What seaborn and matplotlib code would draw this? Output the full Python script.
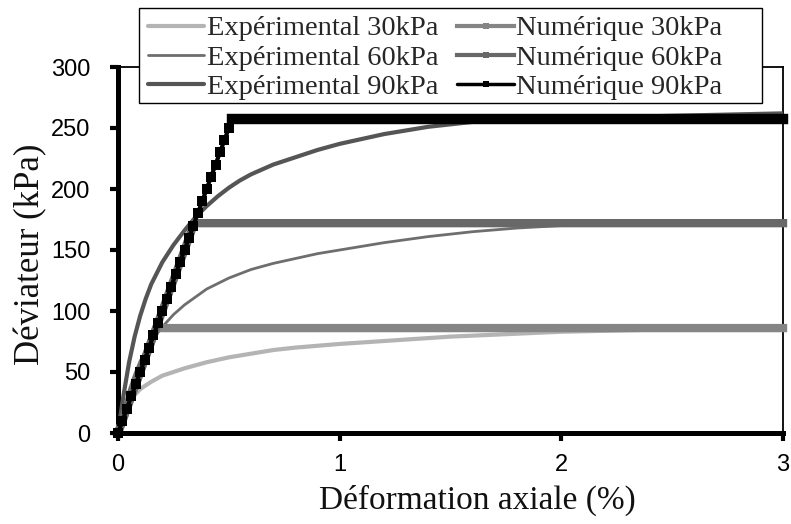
import matplotlib
matplotlib.use("Agg")
import matplotlib.pyplot as plt
from matplotlib.font_manager import FontProperties
from matplotlib.patches import Rectangle
import seaborn as sns

# ---- data ----
exp_x_30 = [0, 0.01, 0.025, 0.05, 0.075, 0.10, 0.15, 0.20, 0.25, 0.30, 0.40, 0.50, 0.60, 0.70, 0.80,
            1.00, 1.25, 1.50, 1.75, 2.00, 2.50, 3.00]
exp_y_30 = [0, 6, 14, 24, 31, 36, 42, 47, 50, 53, 58, 62, 65, 68, 70,
            73, 76, 79, 81, 83, 85, 86]

exp_x_60 = [0, 0.01, 0.025, 0.05, 0.075, 0.10, 0.15, 0.20, 0.25, 0.30, 0.40, 0.50, 0.60, 0.70, 0.80,
            0.90, 1.00, 1.20, 1.40, 1.60, 1.80, 2.00, 2.50, 3.00]
exp_y_60 = [0, 8, 19, 35, 48, 59, 75, 87, 97, 105, 118, 127, 134, 139, 143,
            147, 150, 156, 161, 165, 168, 170, 172, 173]

exp_x_90 = [0, 0.01, 0.025, 0.05, 0.075, 0.10, 0.125, 0.15, 0.20, 0.25, 0.30, 0.35, 0.40, 0.45,
            0.50, 0.55, 0.60, 0.70, 0.80, 0.90, 1.00, 1.20, 1.40, 1.60, 1.80, 2.00, 2.50, 3.00]
exp_y_90 = [0, 13, 31, 58, 79, 96, 110, 122, 140, 154, 166, 177, 186, 194,
            201, 207, 212, 220, 226, 232, 237, 245, 251, 255, 257, 258, 260, 262]

num_x_30 = [0, 0.172, 3.0]
num_y_30 = [0, 86, 86]

num_x_60 = [0, 0.344, 3.0]
num_y_60 = [0, 172, 172]

num_x_90 = [0, 0.02, 0.04, 0.06, 0.08, 0.10, 0.12, 0.14, 0.16, 0.18, 0.20, 0.22, 0.24,
            0.26, 0.28, 0.30, 0.32, 0.34, 0.36, 0.38, 0.40, 0.42, 0.44, 0.46, 0.48, 0.50,
            0.514, 3.0]
num_y_90 = [0, 10, 20, 30, 40, 50, 60, 70, 80, 90, 100, 110, 120,
            130, 140, 150, 160, 170, 180, 190, 200, 210, 220, 230, 240, 250,
            257, 257]

labels = ["Expérimental 30kPa", "Expérimental 60kPa", "Expérimental 90kPa",
          "Numérique 30kPa", "Numérique 60kPa", "Numérique 90kPa"]
x_ticks = [0, 1, 2, 3]
y_ticks = [0, 50, 100, 150, 200, 250, 300]

# ---- style ----
sns.set_style("white")
plt.rcParams['font.family'] = ['Liberation Sans', 'DejaVu Sans']

W, H = 791, 524
fig = plt.figure(figsize=(W / 100, H / 100), dpi=100)
ax = fig.add_axes([118 / W, 91 / H, 665 / W, 366 / H])

# experimental curves
sns.lineplot(x=exp_x_30, y=exp_y_30, ax=ax, color="#b4b4b4", linewidth=3.0,
             label=labels[0], sort=False, estimator=None, zorder=3)
sns.lineplot(x=exp_x_60, y=exp_y_60, ax=ax, color="#6e6e6e", linewidth=2.0,
             label=labels[1], sort=False, estimator=None, zorder=3)
sns.lineplot(x=exp_x_90, y=exp_y_90, ax=ax, color="#555555", linewidth=3.0,
             label=labels[2], sort=False, estimator=None, zorder=3)

# numerical curves
sns.lineplot(x=num_x_30, y=num_y_30, ax=ax, color="#858585", linewidth=6.0,
             marker="s", markersize=5, markeredgewidth=0,
             label=labels[3], sort=False, estimator=None, zorder=4,
             clip_on=False, solid_capstyle="projecting")
sns.lineplot(x=num_x_60, y=num_y_60, ax=ax, color="#686868", linewidth=6.0,
             marker="s", markersize=5, markeredgewidth=0,
             label=labels[4], sort=False, estimator=None, zorder=4,
             clip_on=False, solid_capstyle="projecting")
sns.lineplot(x=num_x_90, y=num_y_90, ax=ax, color="black", linewidth=3.0,
             marker="s", markersize=6.5, markeredgewidth=0,
             label=labels[5], sort=False, estimator=None, zorder=6,
             clip_on=False)
# heavier plateau of the 90 kPa numerical curve
sns.lineplot(x=num_x_90[-2:], y=num_y_90[-2:], ax=ax, color="black", linewidth=7.5,
             sort=False, estimator=None, zorder=6, clip_on=False,
             solid_capstyle="projecting", legend=False)

ax.set_xlim(0, 3)
ax.set_ylim(0, 300)
ax.set_xticks(x_ticks)
ax.set_yticks(y_ticks)
ax.set_xticklabels([str(t) for t in x_ticks])
ax.set_yticklabels([str(t) for t in y_ticks])

for s in ["left", "bottom"]:
    ax.spines[s].set_linewidth(3.6)
    ax.spines[s].set_color("black")
for s in ["top", "right"]:
    ax.spines[s].set_linewidth(1.3)
    ax.spines[s].set_color("black")
    ax.spines[s].set_visible(True)

ax.tick_params(axis="both", which="major", direction="out", length=6, width=3,
               labelsize=17, colors="black", left=True, bottom=True)
ax.tick_params(axis="y", pad=14)
ax.tick_params(axis="x", pad=9)

serif = "Liberation Serif"
ax.set_xlabel("Déformation axiale (%)", fontfamily=serif, fontsize=24, color="#111111")
ax.set_ylabel("Déviateur (kPa)", fontfamily=serif, fontsize=25, color="#111111")
ax.xaxis.set_label_coords(0.5406, -0.142)
ax.yaxis.set_label_coords(-0.106, 0.489)

# legend box (drawn as a plain rectangle at the reference position)
box = Rectangle((139 / W, 1 - 103 / H), 623 / W, 95 / H, transform=fig.transFigure,
                facecolor="white", edgecolor="black", linewidth=1.0,
                clip_on=False, zorder=9)
ax.add_patch(box)

leg = ax.legend(loc="upper left", bbox_to_anchor=(139 / W, 1 - 7 / H),
                bbox_transform=fig.transFigure, ncol=2,
                prop=FontProperties(family=serif, size=20.5),
                frameon=False, borderaxespad=0, handlelength=2.0,
                handletextpad=0.08, columnspacing=0.66, labelspacing=0.12,
                borderpad=0.3)
leg.set_zorder(10)
widths = [3.0, 2.0, 3.0, 3.0, 3.0, 2.5]
for ln, w in zip(leg.get_lines(), widths):
    ln.set_linewidth(w)
    ln.set_markersize(5)

fig.savefig("out.png", dpi=100)
